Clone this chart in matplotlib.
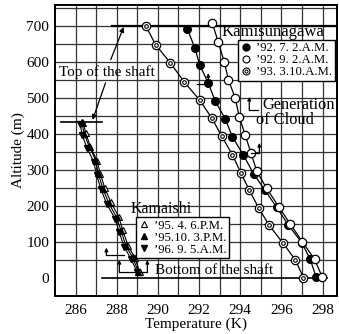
import matplotlib
matplotlib.use("Agg")
import matplotlib.pyplot as plt
import numpy as np
from matplotlib.lines import Line2D

plt.rcParams["font.family"] = ["Liberation Serif", "DejaVu Serif"]

# ---------------- data ----------------

# Kamisunagawa
k927_t = [291.43, 291.80, 292.03, 292.45, 292.78, 293.27, 293.62, 294.15,
          294.65, 295.20, 295.77, 296.34, 296.99, 297.40, 297.69]
k927_z = [692, 638, 592, 541, 492, 442, 392, 342, 289, 244, 196, 147, 98, 52, 2]

k929_t = [292.65, 292.94, 293.22, 293.43, 293.76, 293.95, 294.24, 294.52,
          294.80, 295.28, 295.87, 296.44, 297.01, 297.61, 297.99]
k929_z = [707, 654, 601, 550, 499, 448, 397, 348, 297, 249, 198, 149, 101, 52, 2]

k933_t = [289.40, 289.89, 290.61, 291.27, 292.03, 292.62, 293.11, 293.62,
          294.03, 294.44, 294.89, 295.41, 296.06, 296.68, 297.07]
k933_z = [701, 648, 597, 545, 494, 444, 393, 342, 292, 244, 195, 146, 98, 50, 1]

# Kamaishi
km954_t = [286.38, 286.50, 286.72, 287.05, 287.20, 287.42, 287.72, 288.10,
           288.30, 288.55, 288.88, 289.12]
km954_z = [430, 402, 365, 325, 290, 250, 210, 170, 132, 90, 56, 17]

km9510_t = [286.30, 286.42, 286.65, 286.97, 287.10, 287.33, 287.62, 288.00,
            288.22, 288.45, 288.78, 289.05]
km9510_z = [434, 400, 367, 328, 291, 248, 207, 168, 130, 88, 57, 17]

km969_t = [286.22, 286.33, 286.55, 286.88, 287.02, 287.24, 287.52, 287.92,
           288.12, 288.36, 288.70, 288.98]
km969_z = [428, 396, 362, 323, 287, 246, 205, 165, 128, 86, 53, 17]

legend1_labels = ["\u201992. 7. 2.A.M.", "\u201992. 9. 2.A.M.", "\u201993. 3.10.A.M."]
legend2_labels = ["\u201995. 4. 6.P.M.", "\u201995.10. 3.P.M.", "\u201996. 9. 5.A.M."]

# shaft ends (T range, altitude)
shaft_top_kami = (287.76, 298.7, 700)
shaft_top_kama = (285.3, 287.27, 432)
shaft_bottom = (287.27, 298.2, 0)

# ---------------- figure ----------------

fig = plt.figure(figsize=(3.39, 3.34), dpi=100)
ax = fig.add_axes([0.162, 0.114, 0.832, 0.871])
ax.set_xlim(285, 298.7)
ax.set_ylim(-50, 758)

GRID = "#333333"
for t in range(286, 299):
    ax.axvline(t, color=GRID, lw=0.9, zorder=0)
for z in range(50, 751, 50):
    ax.axhline(z, color=GRID, lw=0.9, zorder=0)

ax.set_xticks(range(286, 299, 2))
ax.set_yticks(range(0, 701, 100))
ax.tick_params(length=0, labelsize=11, colors="black")
ax.tick_params(axis="x", pad=5.5)
ax.tick_params(axis="y", pad=4)
for s in ax.spines.values():
    s.set_linewidth(1.4)
    s.set_color("black")
ax.set_xlabel("Temperature (K)", fontsize=11, labelpad=0.5)
ax.set_ylabel("Altitude (m)", fontsize=11, labelpad=1)

# shaft lines
ax.plot(shaft_top_kami[:2], [shaft_top_kami[2]] * 2, color="black", lw=1.6, zorder=2)
ax.plot(shaft_top_kama[:2], [shaft_top_kama[2]] * 2, color="black", lw=1.2, zorder=2)
ax.plot(shaft_bottom[:2], [shaft_bottom[2]] * 2, color="black", lw=1.2, zorder=2)

# Kamisunagawa profiles
ms = 5.5
ax.plot(k927_t, k927_z, "-o", color="black", lw=0.9, ms=ms, mfc="black", mec="black", zorder=3)
ax.plot(k929_t, k929_z, "-o", color="black", lw=0.9, ms=ms + 0.5, mfc="white", mec="black",
        mew=0.9, zorder=3)
ax.plot(k933_t, k933_z, "-o", color="black", lw=0.9, ms=ms + 0.5, mfc="white", mec="black",
        mew=0.9, zorder=3)
ax.plot(k933_t, k933_z, "o", ms=2.6, mfc="white", mec="black", mew=0.8, zorder=4)

# Kamaishi profiles
ax.plot(km954_t, km954_z, "-^", color="black", lw=0.8, ms=5, mfc="white", mec="black",
        mew=0.8, zorder=3)
ax.plot(km9510_t, km9510_z, "-^", color="black", lw=0.8, ms=5, mfc="black", mec="black",
        zorder=3)
ax.plot(km969_t, km969_z, "-v", color="black", lw=0.8, ms=5, mfc="black", mec="black",
        zorder=3)


def cloud_mark(t0, t1, z0, z1, arrow_at):
    """L-shaped 'generation of cloud' mark: horizontal stub + up arrow."""
    ax.plot([t0, t1], [z0, z0], color="black", lw=0.9, zorder=5)
    for ta in arrow_at:
        ax.annotate("", xy=(ta, z1), xytext=(ta, z0),
                    arrowprops=dict(arrowstyle="-|>", color="black", lw=0.9,
                                    mutation_scale=5, shrinkA=0, shrinkB=0),
                    zorder=5)


cloud_mark(291.9, 292.45, 539, 569, [292.45])
cloud_mark(294.52, 294.93, 347, 375, [294.93])
cloud_mark(287.5, 288.34, 64, 84, [287.5])
cloud_mark(288.13, 289.49, 17, 50, [288.13, 289.49])
cloud_mark(294.44, 294.85, 467, 503, [294.44])

# text labels
ax.text(293.07, 683, "Kamisunagawa", fontsize=12, ha="left", va="center", zorder=6)
ax.text(295.07, 480, "Generation", fontsize=11.8, ha="left", va="center", zorder=6)
ax.text(294.78, 439, "of Cloud", fontsize=11.8, ha="left", va="center", zorder=6)
ax.text(287.51, 572, "Top of the shaft", fontsize=11, ha="center", va="center", zorder=6)
ax.text(288.68, 192, "Kamaishi", fontsize=11.5, ha="left", va="center", zorder=6)
ax.text(289.85, 22, "Bottom of the shaft", fontsize=11, ha="left", va="center", zorder=6)

arrow_kw = dict(arrowstyle="-|>", color="black", lw=0.9, mutation_scale=7,
                shrinkA=0, shrinkB=0)
ax.annotate("", xy=(288.34, 697), xytext=(287.71, 606), arrowprops=arrow_kw)
ax.annotate("", xy=(286.83, 439), xytext=(287.46, 542), arrowprops=arrow_kw)

# legends
h1 = [Line2D([], [], ls="none", marker="o", ms=5, mfc="black", mec="black"),
      Line2D([], [], ls="none", marker="o", ms=5, mfc="white", mec="black", mew=0.8),
      (Line2D([], [], ls="none", marker="o", ms=5, mfc="white", mec="black", mew=0.8),
       Line2D([], [], ls="none", marker="o", ms=2.2, mfc="white", mec="black", mew=0.7))]
h2 = [Line2D([], [], ls="none", marker="^", ms=5, mfc="white", mec="black", mew=0.8),
      Line2D([], [], ls="none", marker="^", ms=5, mfc="black", mec="black"),
      Line2D([], [], ls="none", marker="v", ms=5, mfc="black", mec="black")]

leg_kw = dict(fontsize=9.2, frameon=True, fancybox=False, framealpha=1,
              edgecolor="black", handlelength=0.8, handletextpad=0.4,
              borderpad=0.2, labelspacing=0.0, borderaxespad=0)
leg1 = ax.legend(h1, legend1_labels, loc="upper left",
                 bbox_to_anchor=(0.649, 0.880), **leg_kw)
leg1.get_frame().set_linewidth(1.0)
leg1.set_zorder(7)
ax.add_artist(leg1)
leg2 = ax.legend(h2, legend2_labels, loc="upper left",
                 bbox_to_anchor=(0.287, 0.271), **leg_kw)
leg2.get_frame().set_linewidth(1.0)
leg2.set_zorder(7)

fig.savefig("out.png", dpi=100)
